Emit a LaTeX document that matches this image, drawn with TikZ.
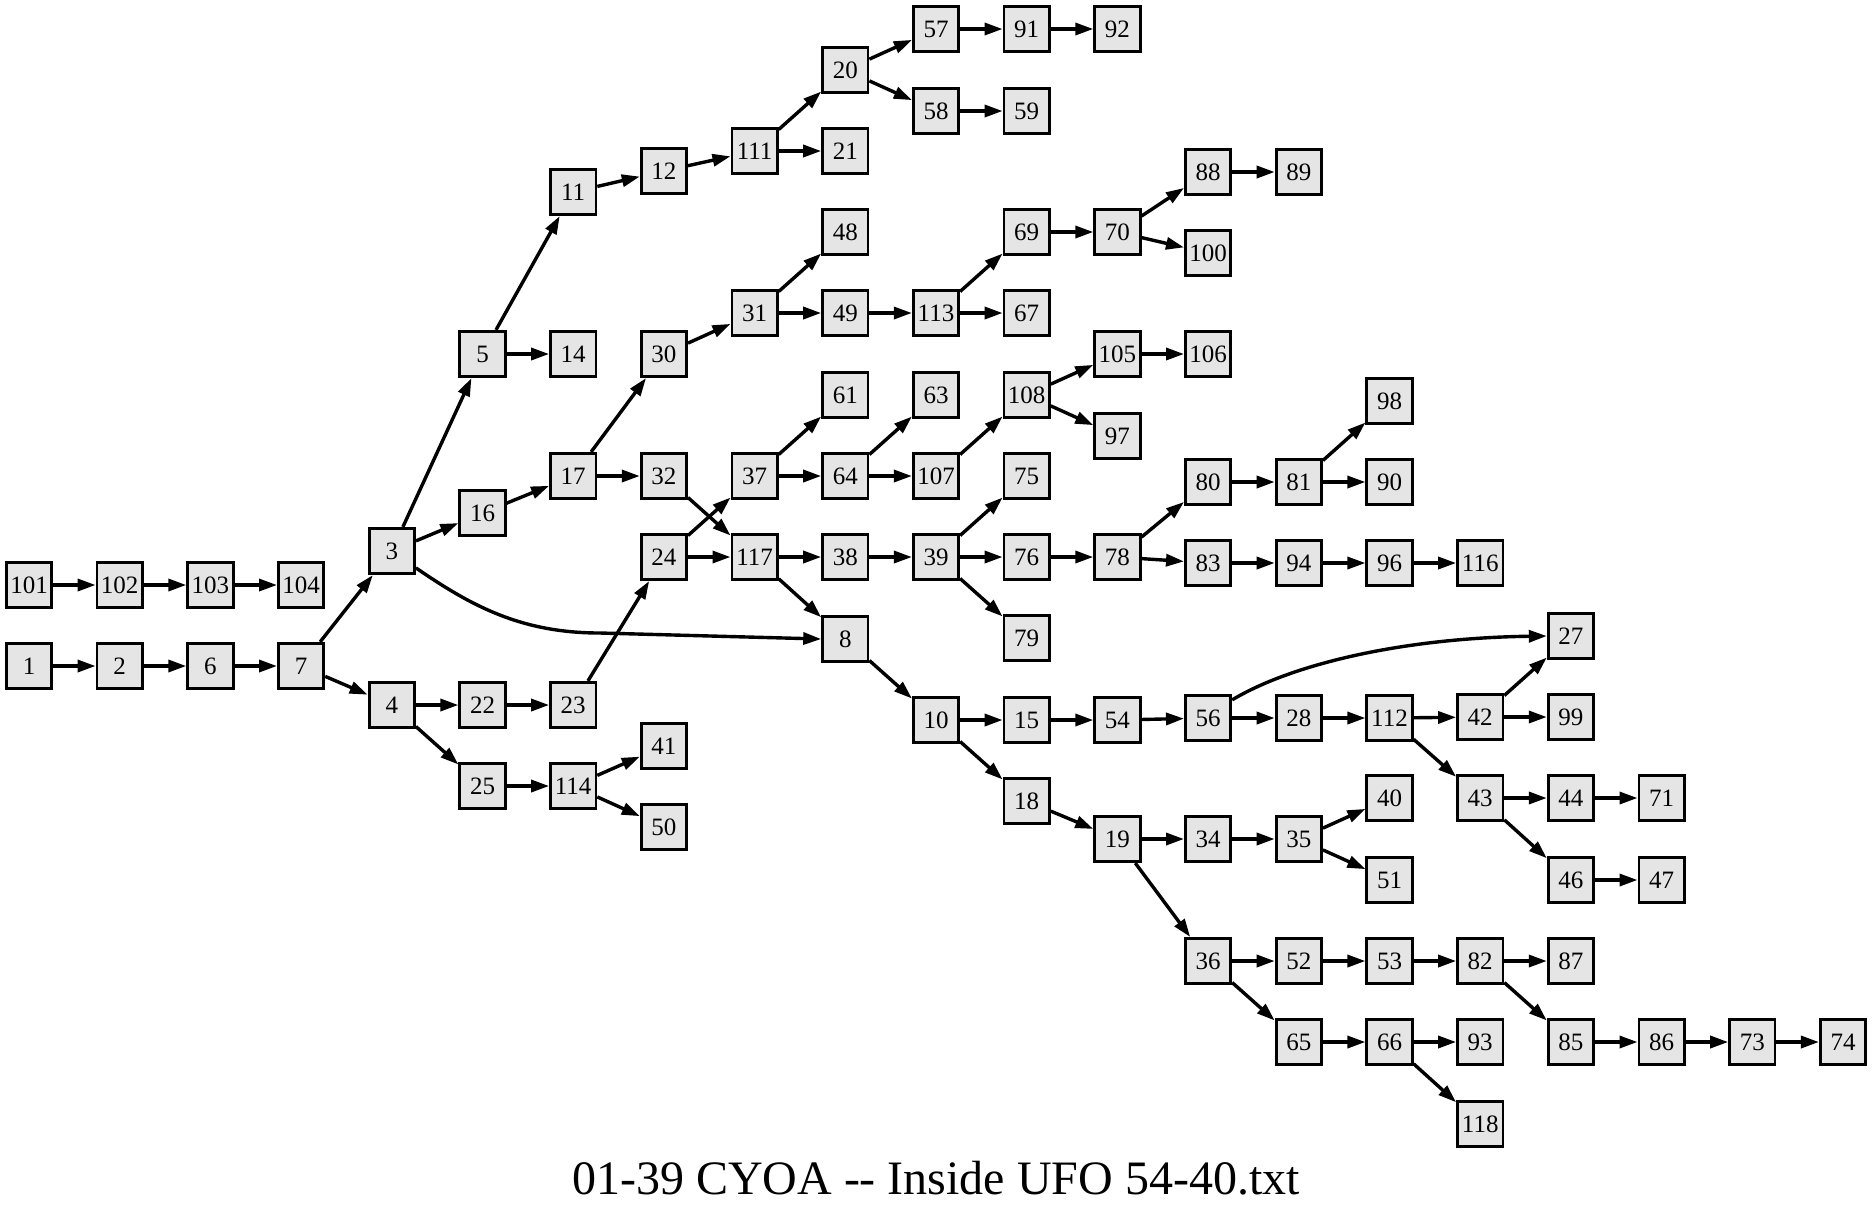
\documentclass[tikz,border=0pt]{standalone}
\usepackage{fontspec}
\setmainfont{Liberation Serif}
\usetikzlibrary{arrows.meta}
\definecolor{boxfill}{RGB}{229,229,229}
\newcommand\nd[3]{\node[bx] (n#1) at ({29+90.7*#2},#3) {#1};}
\begin{document}
\begin{tikzpicture}[x=0.5pt,y=-0.5pt,
  bx/.style={draw=black,fill=boxfill,line width=1.4pt,minimum width=22.7pt,minimum height=22.7pt,inner sep=0pt,font=\fontsize{12.5}{14}\selectfont},
  edge/.style={line width=1.7pt,-{Triangle[length=9pt,width=6pt]}}]
\useasboundingbox (0,0) rectangle (1872,1212);
% column 0-3
\nd{101}{0}{585}\nd{102}{1}{585}\nd{103}{2}{585}\nd{104}{3}{585}
\nd{1}{0}{666}\nd{2}{1}{666}\nd{6}{2}{666}\nd{7}{3}{666}
% column 4
\nd{3}{4}{551}\nd{4}{4}{705}
% column 5
\nd{5}{5}{354}\nd{16}{5}{513}\nd{22}{5}{705}\nd{25}{5}{786}
% column 6
\nd{11}{6}{192}\nd{14}{6}{354}\nd{17}{6}{476}\nd{23}{6}{705}\nd{114}{6}{786}
% column 7
\nd{12}{7}{171}\nd{30}{7}{354}\nd{32}{7}{476}\nd{24}{7}{557}\nd{41}{7}{746}\nd{50}{7}{827}
% column 8
\nd{111}{8}{151}\nd{31}{8}{313}\nd{37}{8}{476}\nd{117}{8}{557}
% column 9
\nd{20}{9}{70}\nd{21}{9}{151}\nd{48}{9}{232}\nd{49}{9}{313}\nd{61}{9}{395}\nd{64}{9}{476}\nd{38}{9}{557}\nd{8}{9}{639}
% column 10
\nd{57}{10}{29}\nd{58}{10}{111}\nd{113}{10}{313}\nd{63}{10}{395}\nd{107}{10}{476}\nd{39}{10}{557}\nd{10}{10}{720}
% column 11
\nd{91}{11}{29}\nd{59}{11}{111}\nd{69}{11}{232}\nd{67}{11}{313}\nd{108}{11}{395}\nd{75}{11}{476}\nd{76}{11}{557}\nd{79}{11}{638}\nd{15}{11}{720}\nd{18}{11}{801}
% column 12
\nd{92}{12}{29}\nd{70}{12}{232}\nd{105}{12}{354}\nd{97}{12}{436}\nd{78}{12}{557}\nd{54}{12}{720}\nd{19}{12}{839}
% column 13
\nd{88}{13}{172}\nd{100}{13}{253}\nd{106}{13}{354}\nd{80}{13}{482}\nd{83}{13}{563}\nd{56}{13}{718}\nd{34}{13}{839}\nd{36}{13}{961}
% column 14
\nd{89}{14}{172}\nd{81}{14}{482}\nd{94}{14}{563}\nd{28}{14}{718}\nd{35}{14}{839}\nd{52}{14}{961}\nd{65}{14}{1042}
% column 15
\nd{98}{15}{401}\nd{90}{15}{482}\nd{96}{15}{563}\nd{112}{15}{718}\nd{40}{15}{798}\nd{51}{15}{880}\nd{53}{15}{961}\nd{66}{15}{1042}
% column 16
\nd{116}{16}{563}\nd{42}{16}{717}\nd{43}{16}{798}\nd{82}{16}{961}\nd{93}{16}{1042}\nd{118}{16}{1124}
% column 17
\nd{27}{17}{636}\nd{99}{17}{717}\nd{44}{17}{798}\nd{46}{17}{880}\nd{87}{17}{961}\nd{85}{17}{1042}
% column 18-20
\nd{71}{18}{798}\nd{47}{18}{880}\nd{86}{18}{1042}
\nd{73}{19}{1042}
\nd{74}{20}{1042}
% straight edges
\foreach \a/\b in {101/102,102/103,103/104,1/2,2/6,6/7,7/3,7/4,
  3/5,3/16,4/22,4/25,22/23,23/24,25/114,114/41,114/50,
  5/11,5/14,11/12,12/111,111/20,111/21,20/57,20/58,57/91,91/92,58/59,
  16/17,17/30,17/32,30/31,31/48,31/49,49/113,113/69,113/67,69/70,70/88,70/100,88/89,
  32/117,24/37,24/117,37/61,37/64,64/63,64/107,107/108,108/105,108/97,105/106,
  117/38,117/8,38/39,39/75,39/76,39/79,76/78,78/80,78/83,80/81,81/98,81/90,83/94,94/96,96/116,
  8/10,10/15,10/18,15/54,54/56,56/28,28/112,112/42,112/43,42/27,42/99,43/44,43/46,44/71,46/47,
  18/19,19/34,19/36,34/35,35/40,35/51,
  36/52,36/65,52/53,53/82,82/87,82/85,85/86,86/73,73/74,
  65/66,66/93,66/118}
  {\draw[edge] (n\a) -- (n\b);}
% curved edges
\draw[edge] (n3.-35) .. controls (470,605) and (520,633) .. (600,633) -- (n8.west);
\draw[edge] (n56.37) .. controls (1290,665) and (1400,638) .. (n27.west);
% title
\node[anchor=base,font=\fontsize{24}{28}\selectfont,inner sep=0pt] (title) at (936,1194) {01-39 CYOA \mbox{-}\mbox{-} Inside UFO 54-40.txt};
\end{tikzpicture}
\end{document}
